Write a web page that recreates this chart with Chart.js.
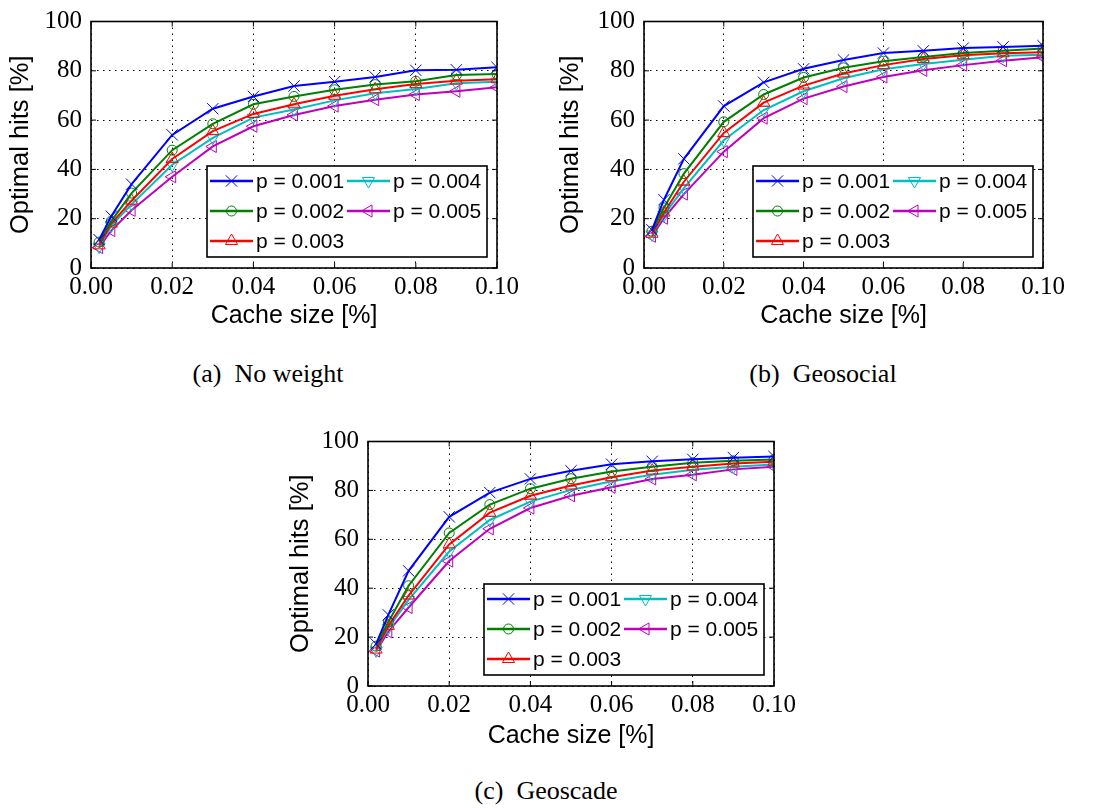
<!DOCTYPE html>
<html>
<head>
<meta charset="utf-8">
<script src="https://cdn.jsdelivr.net/npm/chart.js@4.4.1/dist/chart.umd.min.js"></script>
<style>
  body { margin: 0; background: #fff; width: 1099px; height: 808px; position: relative; overflow: hidden; }
  canvas { position: absolute; }
  .cap { position: absolute; font-family: "Liberation Serif", serif; font-size: 26px; color: #000;
         white-space: pre; transform: translate(-50%, -50%); }
</style>
</head>
<body>
<canvas id="noweight" width="540" height="340" style="left:0;top:0"></canvas>
<canvas id="geosocial" width="540" height="340" style="left:550px;top:0"></canvas>
<canvas id="geoscade" width="540" height="340" style="left:280px;top:420px"></canvas>
<div class="cap" style="left:268px;top:374px">(a)  No weight</div>
<div class="cap" style="left:823px;top:374px">(b)  Geosocial</div>
<div class="cap" style="left:546px;top:791px">(c)  Geoscade</div>
<script>
// cache size [%] on x, optimal hits [%] on y
const cacheSizes = [0.002, 0.005, 0.01, 0.02, 0.03, 0.04, 0.05, 0.06, 0.07, 0.08, 0.09, 0.10];
const pLabels = ['p = 0.001', 'p = 0.002', 'p = 0.003', 'p = 0.004', 'p = 0.005'];
const xTicks = [0, 0.02, 0.04, 0.06, 0.08, 0.10];
const yTicks = [0, 20, 40, 60, 80, 100];

// (a) no weight
const noWeightP1 = [11.5, 21.0, 34.0, 54.0, 64.6, 69.6, 73.8, 75.6, 77.5, 80.2, 80.4, 81.4];
const noWeightP2 = [10.5, 19.0, 30.4, 47.8, 58.5, 66.4, 69.6, 72.3, 74.4, 75.8, 78.3, 78.7];
const noWeightP3 = [9.2, 18.0, 27.3, 44.2, 55.5, 62.5, 66.4, 69.9, 72.5, 74.6, 76.0, 76.6];
const noWeightP4 = [8.6, 17.2, 25.8, 41.9, 52.8, 61.0, 64.3, 68.0, 70.9, 72.6, 74.9, 75.6];
const noWeightP5 = [8.3, 15.2, 23.4, 37.0, 49.3, 57.5, 62.1, 65.7, 68.3, 70.4, 71.7, 73.3];

// (b) geosocial
const geosocialP1 = [15.5, 27.7, 44.3, 65.7, 75.3, 80.8, 84.4, 87.2, 88.1, 89.2, 89.7, 90.2];
const geosocialP2 = [14.9, 24.4, 38.3, 59.3, 70.4, 77.3, 81.2, 83.9, 85.6, 87.2, 88.1, 89.0];
const geosocialP3 = [13.9, 22.5, 35.0, 54.8, 67.1, 74.0, 78.9, 82.3, 84.8, 86.3, 87.1, 87.5];
const geosocialP4 = [13.6, 21.5, 32.4, 51.8, 64.1, 71.7, 77.0, 80.6, 82.8, 84.5, 86.1, 86.5];
const geosocialP5 = [12.9, 20.2, 30.0, 47.2, 60.8, 68.7, 73.6, 77.5, 80.2, 82.3, 84.1, 85.5];

// (c) geoscade
const geoscadeP1 = [17.2, 29.1, 47.1, 69.2, 79.1, 84.7, 88.0, 90.7, 91.9, 92.7, 93.4, 93.9];
const geoscadeP2 = [16.3, 26.2, 41.0, 62.6, 74.2, 80.7, 84.8, 87.7, 89.7, 91.3, 92.1, 92.6];
const geoscadeP3 = [14.9, 24.6, 37.0, 57.9, 70.9, 77.8, 82.0, 85.4, 88.1, 89.7, 91.0, 91.7];
const geoscadeP4 = [14.5, 23.8, 35.2, 55.0, 67.9, 75.4, 80.2, 83.7, 86.4, 88.4, 89.7, 90.6];
const geoscadeP5 = [14.3, 22.2, 32.1, 51.1, 64.3, 72.8, 77.8, 81.3, 84.7, 86.4, 88.6, 89.7];

// x, circle, up/down/left triangles; radii chosen so all markers look about the same size
const seriesStyle = [
  { color: '#0000ff', marker: 'crossRot', rot: 0, r: 8 },
  { color: '#008000', marker: 'circle', rot: 0, r: 5 },
  { color: '#ff0000', marker: 'triangle', rot: 0, r: 7 },
  { color: '#00bfbf', marker: 'triangle', rot: 180, r: 7 },
  { color: '#bf00bf', marker: 'triangle', rot: 270, r: 7 }
];

const serif = '"Liberation Serif", serif';
const sans = '"Liberation Sans", Arial, sans-serif';

// solid frame round the plot area with short inward ticks on every side
const axesFrame = {
  id: 'axesFrame',
  afterDatasetsDraw(chart) {
    const { ctx, chartArea: a, scales } = chart;
    ctx.save();
    ctx.strokeStyle = '#000';
    ctx.lineWidth = 1;
    ctx.beginPath();
    xTicks.forEach(v => {
      const px = scales.x.getPixelForValue(v);
      ctx.moveTo(px, a.bottom); ctx.lineTo(px, a.bottom - 5);
      ctx.moveTo(px, a.top); ctx.lineTo(px, a.top + 5);
    });
    yTicks.forEach(v => {
      const py = scales.y.getPixelForValue(v);
      ctx.moveTo(a.left, py); ctx.lineTo(a.left + 5, py);
      ctx.moveTo(a.right, py); ctx.lineTo(a.right - 5, py);
    });
    ctx.stroke();
    ctx.lineWidth = 1.6;
    ctx.strokeRect(a.left, a.top, a.right - a.left, a.bottom - a.top);
    ctx.restore();
  }
};

// two-column legend box in the lower right corner of the plot
const insetLegend = {
  id: 'insetLegend',
  afterDraw(chart) {
    const { ctx, chartArea: a } = chart;
    const w = 280, h = 91;
    const x0 = a.right - 10 - w;
    const y0 = a.bottom - 11 - h;
    const cols = [3, 140];
    const lineLen = 43;
    ctx.save();
    ctx.fillStyle = '#fff';
    ctx.fillRect(x0, y0, w, h);
    ctx.strokeStyle = '#000';
    ctx.lineWidth = 1.6;
    ctx.strokeRect(x0, y0, w, h);
    ctx.font = '21px ' + sans;
    ctx.textBaseline = 'middle';
    chart.data.datasets.forEach((ds, i) => {
      const lx = x0 + cols[Math.floor(i / 3)];
      const ly = y0 + 15 + (i % 3) * 30;
      ctx.strokeStyle = ds.borderColor;
      ctx.lineWidth = 2.5;
      ctx.beginPath();
      ctx.moveTo(lx, ly);
      ctx.lineTo(lx + lineLen, ly);
      ctx.stroke();
      ctx.fillStyle = 'rgba(0,0,0,0)';
      ctx.lineWidth = 1;
      Chart.helpers.drawPoint(ctx, {
        pointStyle: ds.pointStyle, rotation: ds.pointRotation,
        radius: ds.pointRadius, borderWidth: 1
      }, lx + lineLen / 2, ly);
      ctx.fillStyle = '#000';
      ctx.fillText(ds.label, lx + lineLen + 3, ly + 1);
    });
    ctx.restore();
  }
};

function makeDatasets(series) {
  return series.map((vals, i) => ({
    label: pLabels[i],
    data: cacheSizes.map((x, k) => ({ x: x, y: vals[k] })),
    borderColor: seriesStyle[i].color,
    backgroundColor: seriesStyle[i].color,
    borderWidth: 2,
    pointStyle: seriesStyle[i].marker,
    pointRotation: seriesStyle[i].rot,
    pointRadius: seriesStyle[i].r,
    pointBorderWidth: 1,
    pointBackgroundColor: 'rgba(0,0,0,0)',
    pointBorderColor: seriesStyle[i].color,
    tension: 0
  }));
}

function drawPanel(id, series, area) {
  const canvas = document.getElementById(id);
  const W = canvas.width, H = canvas.height;
  new Chart(canvas.getContext('2d'), {
    type: 'line',
    data: { datasets: makeDatasets(series) },
    options: {
      responsive: false,
      animation: false,
      events: [],
      layout: { padding: { left: 0, top: area.top, right: W - area.right, bottom: 0 } },
      plugins: { legend: { display: false }, tooltip: { enabled: false } },
      scales: {
        x: {
          type: 'linear',
          min: 0, max: 0.1,
          afterFit: s => { s.height = H - area.bottom; },
          afterBuildTicks: s => { s.ticks = xTicks.map(v => ({ value: v })); },
          ticks: {
            color: '#000', padding: 7,
            font: { family: serif, size: 25, lineHeight: 1 },
            callback: v => v.toFixed(2)
          },
          grid: { color: '#000', lineWidth: 1, drawTicks: false },
          border: { display: false, dash: [1.5, 4.5] },
          title: {
            display: true, text: 'Cache size [%]', color: '#000',
            font: { family: sans, size: 25, lineHeight: 1.2 },
            padding: { top: 0, bottom: 9 }
          }
        },
        y: {
          min: 0, max: 100,
          afterFit: s => { s.width = area.left; },
          afterBuildTicks: s => { s.ticks = yTicks.map(v => ({ value: v })); },
          ticks: {
            color: '#000', padding: 9,
            font: { family: serif, size: 25, lineHeight: 1 }
          },
          grid: { color: '#000', lineWidth: 1, drawTicks: false },
          border: { display: false, dash: [1.5, 4.5] },
          title: {
            display: true, text: 'Optimal hits [%]', color: '#000',
            font: { family: sans, size: 25.5, lineHeight: 1.2 },
            padding: { top: 6, bottom: 0 }
          }
        }
      }
    },
    plugins: [axesFrame, insetLegend]
  });
}

drawPanel('noweight', [noWeightP1, noWeightP2, noWeightP3, noWeightP4, noWeightP5],
  { left: 91, top: 16, right: 497, bottom: 268 });
drawPanel('geosocial', [geosocialP1, geosocialP2, geosocialP3, geosocialP4, geosocialP5],
  { left: 94, top: 16, right: 493, bottom: 268 });
drawPanel('geoscade', [geoscadeP1, geoscadeP2, geoscadeP3, geoscadeP4, geoscadeP5],
  { left: 88, top: 14, right: 494, bottom: 266 });
</script>
</body>
</html>
